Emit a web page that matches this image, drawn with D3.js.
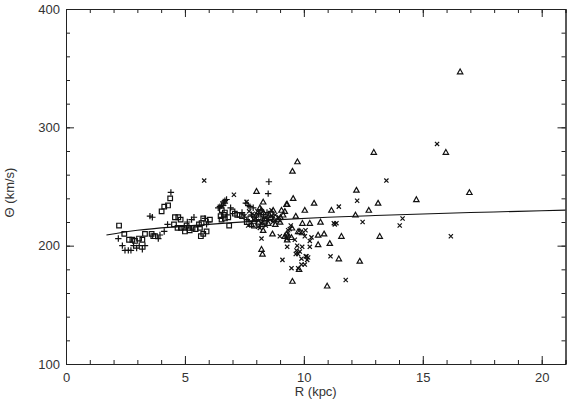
<!DOCTYPE html>
<html>
<head>
<meta charset="utf-8">
<script src="https://cdn.jsdelivr.net/npm/d3@7"></script>
<style>
    body { margin: 0; background: #fff; }
    svg text { font-family: "Liberation Sans", Arial, sans-serif; fill: #333; }
    .axis path, .axis line { stroke: #222; stroke-width: 1; }
    .mark { fill: none; stroke: #111; stroke-width: 1.2; }
</style>
</head>
<body>
<svg id="chart" width="570" height="402"></svg>
<script>
// values: [R (kpc), theta (km/s)]
const plusPts = [
    [4.41, 245], [3.53, 225], [3.63, 224], [2.2, 206], [2.37, 200], [2.48, 196], [2.62, 196],
    [2.73, 196], [2.84, 200], [2.97, 198], [3.08, 200], [3.21, 197], [3.32, 200], [3.88, 206],
    [3.95, 209], [4.13, 212], [4.27, 218], [5.1, 220], [5.28, 222], [5.38, 224], [5.84, 223],
    [5.98, 220], [5.91, 218], [8.53, 254], [8.5, 244], [6.61, 237], [6.68, 238], [6.75, 239],
    [6.92, 232], [6.4, 232], [6.47, 233], [6.54, 234], [7.73, 233], [7.87, 232], [7.56, 236],
    [7.66, 234], [6.68, 236], [6.61, 234], [7.4, 228], [7.8, 226], [8.1, 227], [8.3, 225],
    [7.6, 222], [8.0, 221], [8.2, 230], [7.95, 224], [8.45, 228]
];

const boxPts = [
    [4.38, 240], [4.29, 234], [4.13, 233], [4.02, 229], [2.23, 217], [2.45, 210], [2.65, 205],
    [2.79, 205], [2.9, 204], [3.07, 206], [3.21, 205], [3.32, 210], [3.6, 210], [3.67, 208],
    [3.74, 208], [4.54, 218], [4.58, 224], [4.72, 224], [4.82, 222], [4.69, 215], [4.83, 215],
    [4.97, 215], [5.07, 217], [5.18, 215], [5.32, 215], [5.45, 214], [5.0, 212], [5.2, 213],
    [5.59, 218], [5.7, 219], [5.63, 215], [5.77, 210], [5.67, 208], [5.91, 212], [5.77, 223],
    [6.05, 222], [6.54, 222], [6.68, 223], [6.82, 224], [7.0, 229], [7.1, 227], [7.2, 226],
    [7.3, 226], [7.4, 225], [6.86, 217], [6.55, 230], [6.68, 228], [6.64, 226], [6.5, 225],
    [7.6, 220], [8.1, 224], [7.9, 217], [7.75, 223], [8.35, 221], [8.6, 227]
];

const crossPts = [
    [5.81, 255], [7.06, 243], [7.59, 237], [8.22, 206], [8.99, 208], [11.47, 233], [8.64, 230],
    [11.3, 218], [11.37, 219], [11.26, 219], [9.34, 213], [9.41, 214], [10.07, 213], [10.04, 208],
    [10.32, 207], [10.25, 204], [9.3, 199], [9.93, 199], [10.25, 199], [9.69, 196], [9.76, 193],
    [9.66, 193], [11.12, 191], [9.1, 188], [9.9, 189], [10.08, 191], [10.14, 188], [10.04, 184],
    [9.9, 184], [9.48, 181], [9.76, 181], [11.76, 171], [15.6, 286], [13.47, 255], [12.24, 238],
    [12.47, 220], [14.15, 223], [14.03, 217], [16.18, 208], [7.66, 217], [8.08, 216], [9.45, 217],
    [9.27, 206], [9.62, 205], [9.72, 200], [9.83, 195], [10.11, 191], [10.18, 190], [7.9, 222],
    [8.2, 219], [8.5, 223], [8.7, 220], [7.5, 225], [8.4, 217], [8.8, 226], [7.7, 229],
    [8.05, 229], [8.3, 223], [8.65, 225], [8.95, 224], [8.15, 215], [7.85, 227]
];

const triPts = [
    [9.73, 271], [9.52, 263], [8.01, 246], [8.29, 237], [8.15, 232], [8.22, 230], [8.71, 230],
    [9.06, 230], [9.3, 235], [8.68, 210], [9.34, 209], [9.3, 205], [9.55, 240], [9.27, 235],
    [10.43, 236], [10.04, 230], [11.16, 230], [9.2, 229], [9.66, 225], [9.94, 219], [10.25, 219],
    [10.7, 220], [9.5, 215], [9.76, 212], [9.83, 212], [9.93, 211], [9.27, 210], [9.2, 208],
    [9.48, 207], [10.6, 209], [10.85, 210], [11.58, 208], [10.6, 201], [11.09, 202], [11.47, 189],
    [9.8, 180], [9.52, 170], [10.98, 166], [12.94, 279], [15.97, 279], [12.21, 247], [13.12, 236],
    [14.73, 239], [12.73, 230], [12.17, 226], [13.19, 208], [12.35, 187], [16.57, 347],
    [16.96, 245], [8.22, 197], [8.26, 193], [8.29, 213], [9.02, 224], [9.13, 226], [8.0, 226],
    [8.3, 228], [8.6, 224], [8.9, 222], [8.1, 220], [8.5, 219], [8.8, 218], [7.8, 218],
    [9.0, 220], [8.4, 222], [8.55, 226], [8.75, 222], [8.25, 218]
];

// fitted rotation curve
const curveR = [1.7, 3, 5, 7, 9, 11, 13, 15, 17, 19, 21];
const curveT = [209, 213, 216.5, 219.5, 222, 224, 225.5, 226.8, 228, 229, 230];

const xMajor = [0, 5, 10, 15, 20];
const yMajor = [100, 200, 300, 400];

const svg = d3.select('#chart');

let x = d3.scaleLinear().domain([0, 21]).range([66, 565.5]);
let y = d3.scaleLinear().domain([100, 400]).range([364, 9]);

const xMinor = d3.range(0, 22, 1);
const yMinor = d3.range(100, 401, 20);

function addAxis(axis, tx, ty) {
    return svg.append('g')
        .attr('class', 'axis')
        .attr('transform', 'translate(' + tx + ',' + ty + ')')
        .call(axis);
}

// minor ticks, all four sides, pointing inward
addAxis(d3.axisBottom(x).tickValues(xMinor).tickSize(-4).tickFormat(''), 0, y(100));
addAxis(d3.axisTop(x).tickValues(xMinor).tickSize(-4).tickFormat(''), 0, y(400));
addAxis(d3.axisLeft(y).tickValues(yMinor).tickSize(-4).tickFormat(''), x(0), 0);
addAxis(d3.axisRight(y).tickValues(yMinor).tickSize(-4).tickFormat(''), x(21), 0);

// major ticks
addAxis(d3.axisBottom(x).tickValues(xMajor).tickSize(-8).tickSizeOuter(0).tickPadding(9), 0, y(100))
    .selectAll('text').style('font-size', '13px');
addAxis(d3.axisTop(x).tickValues(xMajor).tickSize(-8).tickSizeOuter(0).tickFormat(''), 0, y(400));
addAxis(d3.axisLeft(y).tickValues(yMajor).tickSize(-8).tickSizeOuter(0).tickPadding(6), x(0), 0)
    .selectAll('text').style('font-size', '13px');
addAxis(d3.axisRight(y).tickValues(yMajor).tickSize(-8).tickSizeOuter(0).tickFormat(''), x(21), 0);

svg.selectAll('.axis text').attr('fill', '#333').style('font-family', '"Liberation Sans", Arial, sans-serif');

// axis titles
svg.append('text')
    .attr('x', (x(0) + x(21)) / 2)
    .attr('y', 396)
    .attr('text-anchor', 'middle')
    .style('font-size', '13px')
    .text('R (kpc)');

svg.append('text')
    .attr('transform', 'translate(14,' + (y(250) + 6) + ') rotate(-90)')
    .attr('text-anchor', 'middle')
    .style('font-size', '13px')
    .text('Θ (km/s)');

// rotation curve
let line = d3.line()
    .x(function (d) { return x(d[0]); })
    .y(function (d) { return y(d[1]); })
    .curve(d3.curveMonotoneX);

svg.append('path')
    .datum(curveR.map(function (r, i) { return [r, curveT[i]]; }))
    .attr('fill', 'none')
    .attr('stroke', '#111')
    .attr('stroke-width', 1.1)
    .attr('d', line);

// symbol shapes, centred on 0,0
const shapes = {
    plus: 'M-3.2,0H3.2M0,-3.2V3.2',
    box: 'M-2.3,-2.3H2.3V2.3H-2.3Z',
    cross: 'M-2.1,-2.1L2.1,2.1M-2.1,2.1L2.1,-2.1',
    tri: 'M0,-2.7L2.7,2.1H-2.7Z'
};

function drawPoints(pts, shape) {
    svg.append('g').selectAll('path')
        .data(pts)
        .enter().append('path')
        .attr('class', 'mark')
        .attr('transform', function (d) {
            return 'translate(' + x(d[0]) + ',' + y(d[1]) + ')';
        })
        .attr('d', shapes[shape]);
}

drawPoints(boxPts, 'box');
drawPoints(plusPts, 'plus');
drawPoints(crossPts, 'cross');
drawPoints(triPts, 'tri');
</script>
</body>
</html>
